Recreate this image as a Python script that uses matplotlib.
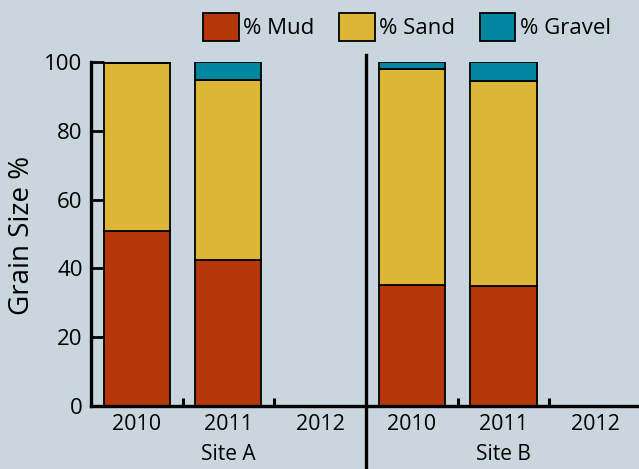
import matplotlib.pyplot as plt
import numpy as np

# dados
sites = ['Site A', 'Site B']
anos = ['2010', '2011', '2012']
lama = [51.0, 42.4, 0, 35.2, 34.9, 0]
areia = [48.6, 52.4, 0, 62.8, 59.6, 0]
cascalho = [0.4, 5.2, 0, 2.0, 5.5, 0]

cor_fundo = '#C9D6DE'
cor_lama = '#B5370A'
cor_areia = '#DDB637'
cor_cascalho = '#00879F'

plt.rcParams['font.family'] = ['Open Sans', 'DejaVu Sans']

fig = plt.figure(figsize=(6.39, 4.69), dpi=100, facecolor=cor_fundo)
ax = fig.add_axes([91 / 639, 1 - 406 / 469, 550 / 639, 344 / 469])
ax.set_facecolor(cor_fundo)

x = np.arange(len(lama))
larg = 0.72
base_areia = np.array(lama)
base_cascalho = base_areia + np.array(areia)
ax.bar(x, lama, larg, color=cor_lama, edgecolor='black', linewidth=1.3, label='% Mud')
ax.bar(x, areia, larg, bottom=base_areia, color=cor_areia, edgecolor='black', linewidth=1.3, label='% Sand')
ax.bar(x, cascalho, larg, bottom=base_cascalho, color=cor_cascalho, edgecolor='black', linewidth=1.3, label='% Gravel')

ax.set_xlim(-0.5, 5.5)
ax.set_ylim(0, 100)
ax.set_xticks(x)
ax.set_xticklabels(anos * 2, fontsize=15.5)
ax.set_xticks([0.5, 1.5, 3.5, 4.5], minor=True)
ax.tick_params(axis='x', which='major', length=0, pad=6)
ax.tick_params(axis='x', which='minor', direction='in', length=6, width=2.2)
ax.set_yticks(range(0, 101, 20))
ax.tick_params(axis='y', direction='in', length=9, width=2, labelsize=16, pad=6)

for lado in ['top', 'right']:
    ax.spines[lado].set_visible(False)
ax.spines['left'].set_linewidth(2.4)
ax.spines['bottom'].set_linewidth(2.4)

fig.text(22 / 639, 1 - 235 / 469, 'Grain Size %', fontsize=20, rotation=90,
         ha='center', va='center')

# separador entre os locais
ax.plot([2.5, 2.5], [-0.183, 1.02], color='black', linewidth=2.4,
        transform=ax.get_xaxis_transform(), clip_on=False)

for i, s in enumerate(sites):
    ax.text(1 + 3 * i, -0.142, s, fontsize=15, ha='center', va='center',
            transform=ax.get_xaxis_transform())

fig.legend(loc='center', bbox_to_anchor=(0.637, 1 - 27 / 469), ncol=3, frameon=False,
           fontsize=16, handlelength=1.6, handleheight=1.5, handletextpad=0.2,
           columnspacing=1.1, borderpad=0)

plt.savefig('out.png', dpi=100, facecolor=cor_fundo)
